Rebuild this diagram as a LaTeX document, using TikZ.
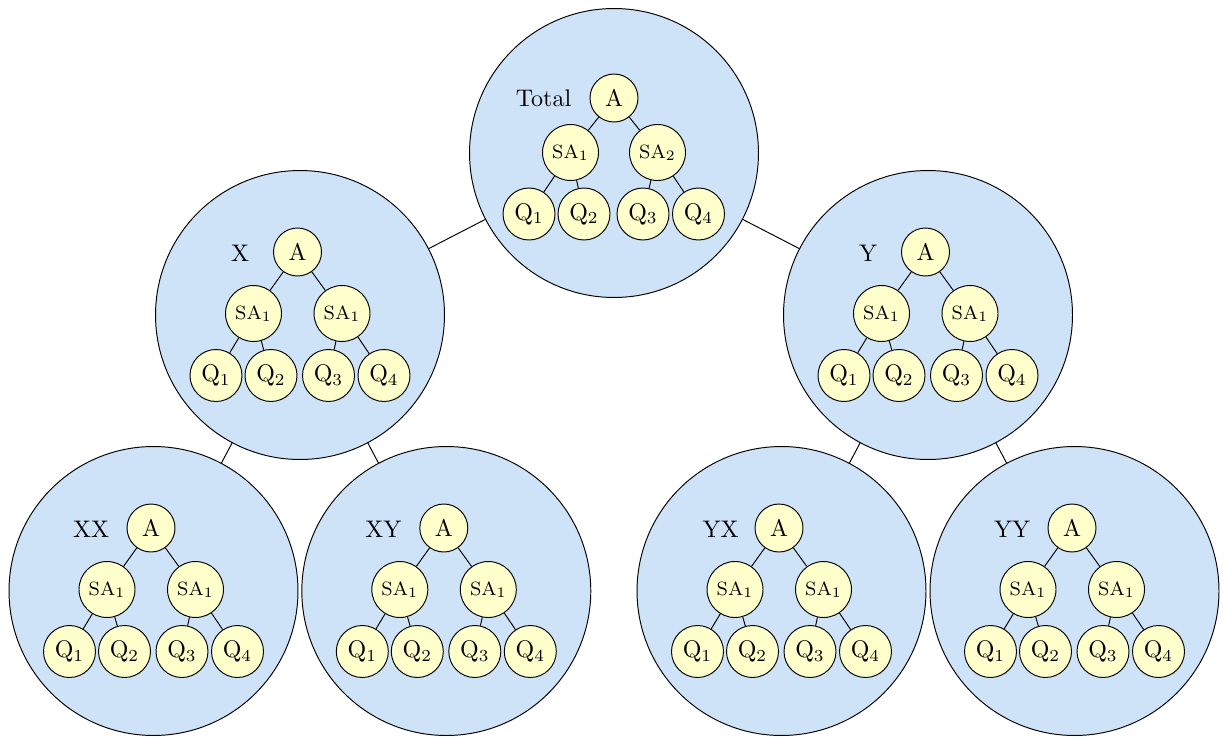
\documentclass[tikz,border=0pt]{standalone}
\definecolor{bigblue}{RGB}{207,227,248}
\definecolor{nodeyellow}{RGB}{255,255,204}
\tikzset{
  big/.style={circle, draw, fill=bigblue, minimum size=120.4pt, inner sep=0pt},
  anode/.style={circle, draw, fill=nodeyellow, minimum size=20pt, inner sep=0pt},
  sanode/.style={circle, draw, fill=nodeyellow, minimum size=23.33pt, inner sep=0pt, font=\footnotesize},
  qnode/.style={circle, draw, fill=nodeyellow, minimum size=21.67pt, inner sep=0pt},
  lbl/.style={inner sep=0pt},
}
\newcommand{\grpbig}[3]{\node[big] (#1) at (#2,#3) {};}
\newcommand{\grptree}[5]{%
  \node[anode] (#1A) at ({#2-2.5},{#3-63}) {A};
  \node[lbl] (#1L) at ({#2+#5},{#3-62}) {#4};
  \node[sanode] (#1S1) at ({#2-46.5},{#3-1.5}) {SA$_1$};
  \node[sanode] (#1S2) at ({#2+42},{#3-1.5}) {SA$_1$};
  \node[qnode] (#1Q1) at ({#2-84},{#3+60.5}) {Q$_1$};
  \node[qnode] (#1Q2) at ({#2-29},{#3+60.5}) {Q$_2$};
  \node[qnode] (#1Q3) at ({#2+28.5},{#3+60.5}) {Q$_3$};
  \node[qnode] (#1Q4) at ({#2+84},{#3+60.5}) {Q$_4$};
  \draw (#1A) -- (#1S1);
  \draw (#1A) -- (#1S2);
  \draw (#1S1) -- (#1Q1);
  \draw (#1S1) -- (#1Q2);
  \draw (#1S2) -- (#1Q3);
  \draw (#1S2) -- (#1Q4);
}
\begin{document}
\begin{tikzpicture}[x=0.41667pt, y=-0.41667pt]
\useasboundingbox (0,0) rectangle (1224,737);
% big circles
\grpbig{T}{614}{153}
\grpbig{X}{300}{315}
\grpbig{Y}{928}{315}
\grpbig{XX}{153.5}{591}
\grpbig{XY}{446.3}{591}
\grpbig{YX}{781.5}{591}
\grpbig{YY}{1074.5}{591}
% connectors between big circles
\draw (T) -- (X);
\draw (T) -- (Y);
\draw (X) -- (XX);
\draw (X) -- (XY);
\draw (Y) -- (YX);
\draw (Y) -- (YY);
% top tree
\node[anode] (TA) at (614,98) {A};
\node[lbl] (TL) at (543.5,98) {Total};
\node[sanode] (TS1) at (570.5,152.5) {SA$_1$};
\node[sanode] (TS2) at (657.5,152.5) {SA$_2$};
\node[qnode] (TQ1) at (529,214) {Q$_1$};
\node[qnode] (TQ2) at (584,214) {Q$_2$};
\node[qnode] (TQ3) at (643,214) {Q$_3$};
\node[qnode] (TQ4) at (698.5,214) {Q$_4$};
\draw (TA) -- (TS1);
\draw (TA) -- (TS2);
\draw (TS1) -- (TQ1);
\draw (TS1) -- (TQ2);
\draw (TS2) -- (TQ3);
\draw (TS2) -- (TQ4);
% lower trees
\grptree{X}{300}{315}{X}{-60}
\grptree{Y}{928}{315}{Y}{-60}
\grptree{XX}{153.5}{591}{XX}{-62.5}
\grptree{XY}{446.3}{591}{XY}{-63}
\grptree{YX}{781.5}{591}{YX}{-61}
\grptree{YY}{1074.5}{591}{YY}{-62.5}
\end{tikzpicture}
\end{document}
